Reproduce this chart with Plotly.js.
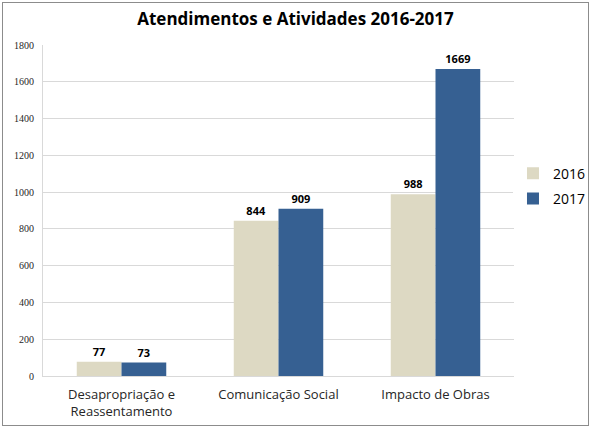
<!DOCTYPE html>
<html><head><meta charset="utf-8">
<script src="https://cdn.plot.ly/plotly-3.0.1.min.js"></script>
<style>html,body{margin:0;padding:0;background:#fff;}#wrap{position:relative;width:591px;height:428px;}
#frame{position:absolute;left:2px;top:2px;width:585px;height:422px;border:1px solid #8c8c8c;pointer-events:none;}</style>
</head><body>
<div id="wrap"><div id="chart" style="width:591px;height:428px;"></div><div id="frame"></div></div>
<script>
const categories = ["Desapropriação e<br>Reassentamento", "Comunicação Social", "Impacto de Obras"];
const values2016 = [77, 844, 988];
const values2017 = [73, 909, 1669];
const seriesNames = ["2016", "2017"];
const yTicks = [0, 200, 400, 600, 800, 1000, 1200, 1400, 1600, 1800];

const labelFont = {family: "Open Sans, Liberation Sans, sans-serif", size: 11, color: "#000"};
const traces = [
  {type: "bar", name: seriesNames[0], legendgroup: "a", x: categories, y: values2016, marker: {color: "#DDD9C3"},
   text: values2016.map(String), textposition: "outside", texttemplate: "<b>%{text}</b>", textfont: labelFont, cliponaxis: false},
  {type: "bar", name: seriesNames[1], legendgroup: "b", x: categories, y: values2017, marker: {color: "#366092"},
   text: values2017.map(String), textposition: "outside", texttemplate: "<b>%{text}</b>", textfont: labelFont, cliponaxis: false}
];
const layout = {
  width: 591, height: 428,
  margin: {l: 43, r: 77, t: 45, b: 52, autoexpand: false},
  paper_bgcolor: "#fff", plot_bgcolor: "#fff",
  title: {text: "<b>Atendimentos e Atividades 2016-2017</b>", x: 0.5, xanchor: "center", y: 0.955, yanchor: "middle",
          font: {family: "Open Sans, sans-serif", size: 17, color: "#000"}},
  barmode: "group", bargap: 0.43, bargroupgap: 0,
  xaxis: {showgrid: false, showline: true, linecolor: "#d9d9d9", ticks: "", ticklabelstandoff: 6, automargin: false,
          tickfont: {family: "Open Sans, sans-serif", size: 13, color: "#262626"}, tickangle: 0},
  yaxis: {range: [0, 1800], tickvals: yTicks, showgrid: true, gridcolor: "#d9d9d9", gridwidth: 1, showline: true, linecolor: "#d9d9d9",
          zeroline: false, ticks: "", ticklen: 0, ticklabelstandoff: 6, tickfont: {family: "Liberation Serif, serif", size: 10, color: "#262626"}, automargin: false},
  legend: {xref: "container", yref: "container", x: 0.868, y: 0.565, xanchor: "left", yanchor: "middle", traceorder: "grouped",
           font: {family: "Open Sans, sans-serif", size: 14, color: "#000"}, itemwidth: 30, tracegroupgap: 4},
  showlegend: true
};
Plotly.newPlot("chart", traces, layout, {displayModeBar: false, staticPlot: true});
</script>
</body></html>
